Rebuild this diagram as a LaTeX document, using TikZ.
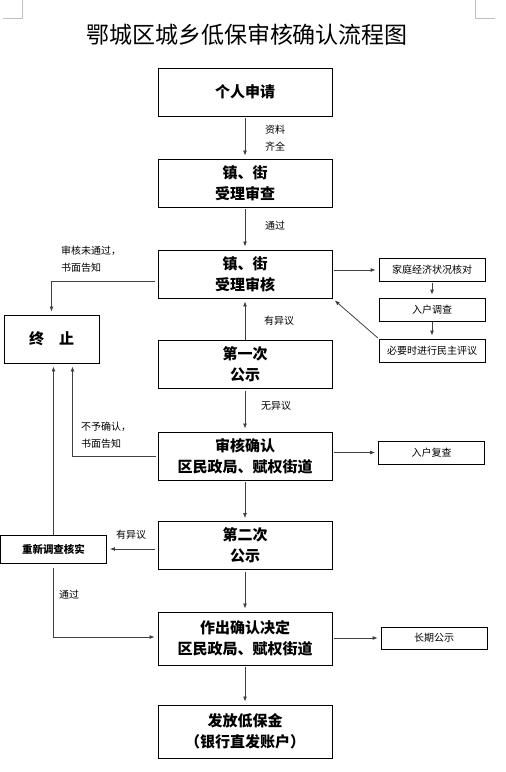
\documentclass[tikz,border=0pt]{standalone}
\usepackage{fontspec}
\setmainfont{Noto Sans CJK SC}
\usepackage{tikz}
\usetikzlibrary{arrows.meta}

\begin{document}
\begin{tikzpicture}[x=1pt, y=-1pt,
		box/.style={draw, line width=0.9pt, minimum width=174pt, minimum height=48pt, inner sep=0pt, align=center, font=\bfseries\fontsize{15}{21}\selectfont},
		smallbox/.style={draw, line width=0.8pt, minimum width=106pt, minimum height=23pt, inner sep=0pt, font=\fontsize{10}{12}\selectfont},
		lab/.style={inner sep=0pt, align=left, font=\fontsize{10}{17}\selectfont},
		arr/.style={-{Latex[length=5pt,width=4pt]}, line width=0.8pt, black!75, shorten >=3pt}]
		\useasboundingbox (0, 0) rectangle (506, 772);
		\draw[black!25] (3, 18) -- (22, 18) -- (22, 0);
		\draw[black!25] (475, 0) -- (475, 18) -- (495, 18);

		\node (title) at (247, 35) {\fontsize{23}{26}\selectfont 鄂城区城乡低保审核确认流程图};

		\node[box] (apply) at (245, 92) {个人申请};
		\node[box] (accept) at (245, 183) {镇、街\\受理审查};
		\node[box] (review) at (245, 274) {镇、街\\受理审核};
		\node[box] (pubone) at (245, 364.5) {第一次\\公示};
		\node[box] (confirm) at (245, 456) {审核确认\\区民政局、赋权街道};
		\node[box] (pubtwo) at (245, 545.5) {第二次\\公示};
		\node[box, minimum height=53pt] (decide) at (245, 638.5) {作出确认决定\\区民政局、赋权街道};
		\node[box, minimum height=53pt] (pay) at (245, 731.5) {发放低保金\\（银行直发账户）};

		\node[box, minimum width=95pt] (stop) at (51.5, 339) {终\hspace{1em}止};
		\node[box, minimum width=106pt, minimum height=28pt, font=\bfseries\fontsize{10.5}{12}\selectfont] (recheck) at (53.5, 549) {重新调查核实};

		\node[smallbox] (check) at (432, 270) {家庭经济状况核对};
		\node[smallbox] (visit) at (432, 309.5) {入户调查};
		\node[smallbox] (vote) at (432, 350.5) {必要时进行民主评议};
		\node[smallbox] (revisit) at (431.5, 452.5) {入户复查};
		\node[smallbox, minimum height=22pt] (notice) at (434, 638) {长期公示};

		\draw[arr, shorten <=2pt] (apply) -- (accept);
		\draw[arr, shorten <=2pt] (accept) -- (review);
		\draw[arr] (pubone) -- (review);
		\draw[arr, shorten <=2pt] (pubone) -- (confirm);
		\draw[arr, shorten <=2pt] (confirm) -- (pubtwo);
		\draw[arr, shorten <=2pt] (pubtwo) -- (decide);
		\draw[arr, shorten <=2pt] (decide) -- (pay);

		\draw[arr, shorten <=3pt] ([yshift=-7pt]review.west) -| (stop.north);
		\draw[arr, shorten <=2pt] (confirm.west) -| ([xshift=21pt]stop.south);
		\draw[arr] (recheck.north) -- (recheck.north |- stop.south);
		\draw[arr, shorten <=5pt] (recheck.south) |- ([yshift=1.5pt]decide.west);
		\draw[arr, shorten <=3pt] (pubtwo.west |- recheck.east) -- (recheck.east);

		\draw[arr, shorten <=2pt] (review.east |- check.west) -- (check.west);
		\draw[arr, shorten <=1pt] (check) -- (visit);
		\draw[arr, shorten <=1pt] (visit) -- (vote);
		\draw[arr, shorten <=1pt] (vote.north west) -- (review.south east);
		\draw[arr, shorten <=2pt] (confirm.east |- revisit.west) -- (revisit.west);
		\draw[arr, shorten <=2pt] (decide.east |- notice.west) -- (notice.west);

		\node[lab] (full) at (275, 138.5) {资料\\齐全};
		\node[lab] (passone) at (275, 226) {通过};
		\node[lab, anchor=west] (failone) at (61, 259.5) {审核未通过，\\书面告知};
		\node[lab] (objone) at (279, 321) {有异议};
		\node[lab] (noobj) at (276, 406) {无异议};
		\node[lab, anchor=west] (failtwo) at (81, 435) {不予确认，\\书面告知};
		\node[lab] (objtwo) at (131, 535) {有异议};
		\node[lab] (passtwo) at (69, 595) {通过};
	\end{tikzpicture}
\end{document}
